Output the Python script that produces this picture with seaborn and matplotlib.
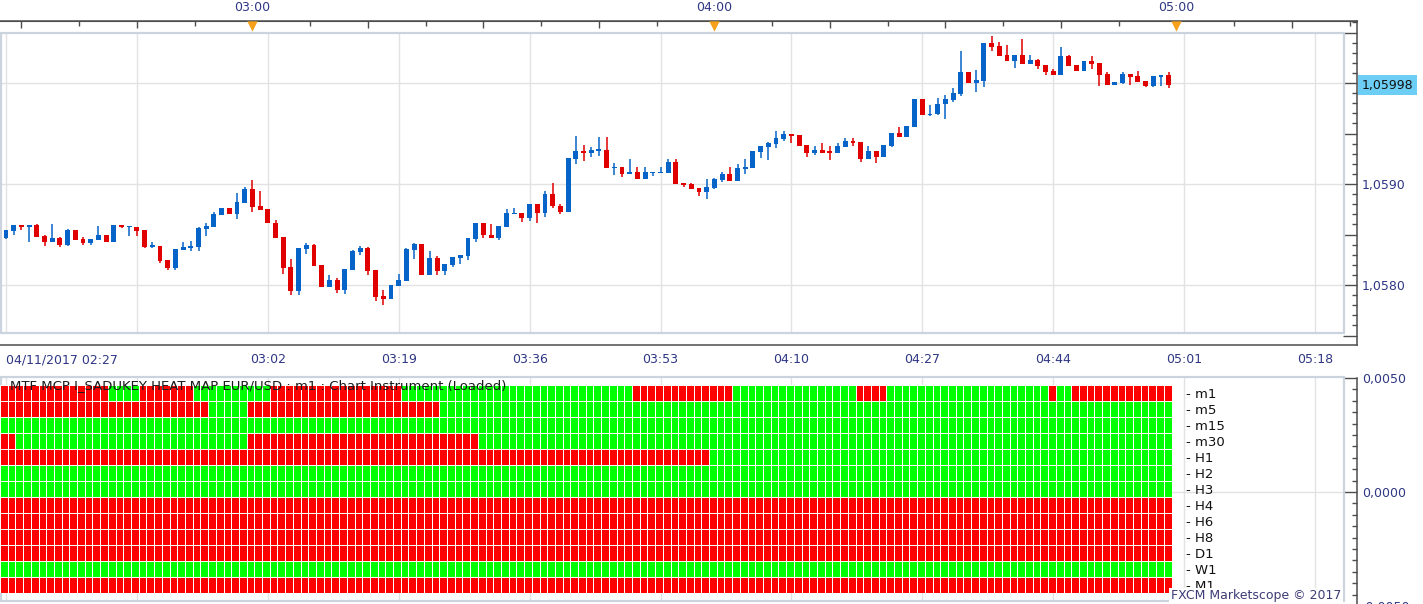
import numpy as np
import pandas as pd
import matplotlib
matplotlib.use("Agg")
import matplotlib.pyplot as plt
import matplotlib.transforms as mtransforms
from matplotlib.colors import ListedColormap
from matplotlib.patches import Rectangle
import seaborn as sns

sns.set_style("white")
plt.rcParams['font.family'] = ['DejaVu Sans']

###################################
# EUR/USD m1 candles, 04/11/2017 02:28 .. 04:59
opens = [
    1.05847, 1.05853, 1.05859, 1.05857, 1.05859, 1.05849, 1.05843, 1.05847, 1.05840, 1.05854,
    1.05846, 1.05842, 1.05845, 1.05850, 1.05843, 1.05859, 1.05857, 1.05857, 1.05854, 1.05838,
    1.05839, 1.05825, 1.05817, 1.05835, 1.05837, 1.05838, 1.05855, 1.05857, 1.05869, 1.05876,
    1.05870, 1.05881, 1.05895, 1.05878, 1.05875, 1.05861, 1.05848, 1.05818, 1.05794, 1.05836,
    1.05840, 1.05820, 1.05798, 1.05805, 1.05795, 1.05815, 1.05833, 1.05837, 1.05815, 1.05789,
    1.05786, 1.05799, 1.05804, 1.05835, 1.05841, 1.05810, 1.05827, 1.05814, 1.05820, 1.05827,
    1.05829, 1.05846, 1.05861, 1.05850, 1.05847, 1.05857, 1.05870, 1.05871, 1.05866, 1.05880,
    1.05871, 1.05890, 1.05878, 1.05872, 1.05925, 1.05933, 1.05931, 1.05933, 1.05934, 1.05916,
    1.05917, 1.05910, 1.05912, 1.05905, 1.05911, 1.05911, 1.05911, 1.05922, 1.05901, 1.05900,
    1.05896, 1.05892, 1.05896, 1.05904, 1.05910, 1.05903, 1.05915, 1.05916, 1.05932, 1.05937,
    1.05940, 1.05945, 1.05950, 1.05949, 1.05939, 1.05931, 1.05934, 1.05933, 1.05931, 1.05937,
    1.05943, 1.05942, 1.05925, 1.05933, 1.05927, 1.05938, 1.05951, 1.05947, 1.05956, 1.05984,
    1.05968, 1.05969, 1.05979, 1.05983, 1.05989, 1.06011, 1.06000, 1.06002, 1.06040, 1.06037,
    1.06028, 1.06022, 1.06028, 1.06019, 1.06023, 1.06018, 1.06012, 1.06008, 1.06027, 1.06018,
    1.06012, 1.06022, 1.06020, 1.06009, 1.05998, 1.06000, 1.06009, 1.06007, 1.06002, 1.05997,
    1.06006, 1.06008]
highs = [
    1.05854, 1.05859, 1.05859, 1.05859, 1.05860, 1.05850, 1.05860, 1.05848, 1.05855, 1.05854,
    1.05848, 1.05846, 1.05858, 1.05850, 1.05859, 1.05859, 1.05858, 1.05857, 1.05854, 1.05843,
    1.05839, 1.05825, 1.05836, 1.05843, 1.05844, 1.05857, 1.05861, 1.05872, 1.05876, 1.05876,
    1.05891, 1.05897, 1.05904, 1.05893, 1.05875, 1.05864, 1.05848, 1.05826, 1.05837, 1.05842,
    1.05841, 1.05820, 1.05810, 1.05807, 1.05816, 1.05835, 1.05839, 1.05838, 1.05815, 1.05795,
    1.05800, 1.05811, 1.05837, 1.05842, 1.05841, 1.05834, 1.05829, 1.05821, 1.05828, 1.05830,
    1.05847, 1.05861, 1.05861, 1.05860, 1.05858, 1.05875, 1.05876, 1.05871, 1.05880, 1.05880,
    1.05893, 1.05901, 1.05880, 1.05926, 1.05948, 1.05939, 1.05937, 1.05947, 1.05947, 1.05921,
    1.05917, 1.05925, 1.05917, 1.05917, 1.05912, 1.05917, 1.05925, 1.05925, 1.05901, 1.05901,
    1.05896, 1.05905, 1.05906, 1.05912, 1.05917, 1.05920, 1.05925, 1.05933, 1.05938, 1.05942,
    1.05952, 1.05952, 1.05950, 1.05949, 1.05939, 1.05938, 1.05941, 1.05938, 1.05941, 1.05946,
    1.05946, 1.05942, 1.05938, 1.05933, 1.05939, 1.05951, 1.05956, 1.05957, 1.05984, 1.05984,
    1.05978, 1.05985, 1.05988, 1.05995, 1.06032, 1.06011, 1.06013, 1.06040, 1.06047, 1.06041,
    1.06038, 1.06028, 1.06044, 1.06028, 1.06024, 1.06018, 1.06014, 1.06036, 1.06028, 1.06018,
    1.06022, 1.06027, 1.06020, 1.06011, 1.06001, 1.06011, 1.06009, 1.06012, 1.06002, 1.06007,
    1.06008, 1.06011]
lows = [
    1.05846, 1.05850, 1.05854, 1.05843, 1.05848, 1.05839, 1.05843, 1.05838, 1.05839, 1.05845,
    1.05840, 1.05840, 1.05845, 1.05843, 1.05843, 1.05856, 1.05849, 1.05849, 1.05837, 1.05837,
    1.05822, 1.05815, 1.05815, 1.05835, 1.05834, 1.05834, 1.05849, 1.05857, 1.05869, 1.05870,
    1.05865, 1.05881, 1.05872, 1.05874, 1.05861, 1.05847, 1.05811, 1.05790, 1.05790, 1.05831,
    1.05819, 1.05798, 1.05798, 1.05792, 1.05791, 1.05815, 1.05830, 1.05810, 1.05784, 1.05780,
    1.05786, 1.05799, 1.05804, 1.05826, 1.05810, 1.05810, 1.05810, 1.05810, 1.05818, 1.05821,
    1.05825, 1.05843, 1.05847, 1.05847, 1.05845, 1.05857, 1.05870, 1.05862, 1.05863, 1.05861,
    1.05867, 1.05876, 1.05870, 1.05872, 1.05920, 1.05923, 1.05927, 1.05928, 1.05916, 1.05909,
    1.05907, 1.05910, 1.05905, 1.05905, 1.05908, 1.05911, 1.05911, 1.05900, 1.05897, 1.05895,
    1.05888, 1.05885, 1.05895, 1.05902, 1.05903, 1.05903, 1.05910, 1.05916, 1.05926, 1.05924,
    1.05936, 1.05943, 1.05941, 1.05938, 1.05927, 1.05929, 1.05931, 1.05924, 1.05931, 1.05937,
    1.05938, 1.05922, 1.05925, 1.05921, 1.05927, 1.05937, 1.05947, 1.05947, 1.05956, 1.05968,
    1.05967, 1.05968, 1.05964, 1.05981, 1.05987, 1.06000, 1.05991, 1.05996, 1.06032, 1.06027,
    1.06022, 1.06015, 1.06019, 1.06019, 1.06014, 1.06008, 1.06008, 1.06008, 1.06017, 1.06012,
    1.06012, 1.06014, 1.05997, 1.05998, 1.05998, 1.05999, 1.05998, 1.06001, 1.05996, 1.05996,
    1.05997, 1.05995]
closes = [
    1.05854, 1.05859, 1.05857, 1.05859, 1.05848, 1.05843, 1.05847, 1.05840, 1.05854, 1.05845,
    1.05842, 1.05846, 1.05850, 1.05843, 1.05859, 1.05857, 1.05857, 1.05853, 1.05838, 1.05839,
    1.05824, 1.05817, 1.05836, 1.05838, 1.05839, 1.05856, 1.05858, 1.05870, 1.05876, 1.05870,
    1.05882, 1.05895, 1.05877, 1.05874, 1.05861, 1.05847, 1.05817, 1.05794, 1.05837, 1.05840,
    1.05819, 1.05798, 1.05805, 1.05795, 1.05816, 1.05834, 1.05837, 1.05814, 1.05788, 1.05786,
    1.05800, 1.05805, 1.05836, 1.05841, 1.05810, 1.05827, 1.05814, 1.05821, 1.05828, 1.05830,
    1.05847, 1.05861, 1.05850, 1.05847, 1.05858, 1.05871, 1.05871, 1.05866, 1.05880, 1.05871,
    1.05890, 1.05878, 1.05872, 1.05926, 1.05933, 1.05931, 1.05934, 1.05934, 1.05916, 1.05917,
    1.05910, 1.05912, 1.05905, 1.05912, 1.05912, 1.05912, 1.05922, 1.05900, 1.05899, 1.05895,
    1.05892, 1.05897, 1.05905, 1.05910, 1.05903, 1.05916, 1.05917, 1.05933, 1.05938, 1.05941,
    1.05946, 1.05950, 1.05948, 1.05938, 1.05931, 1.05934, 1.05931, 1.05931, 1.05938, 1.05943,
    1.05941, 1.05925, 1.05933, 1.05927, 1.05939, 1.05951, 1.05947, 1.05957, 1.05984, 1.05968,
    1.05969, 1.05979, 1.05984, 1.05990, 1.06011, 1.06000, 1.06003, 1.06040, 1.06036, 1.06027,
    1.06022, 1.06028, 1.06019, 1.06023, 1.06017, 1.06011, 1.06008, 1.06027, 1.06017, 1.06012,
    1.06022, 1.06019, 1.06008, 1.05998, 1.06001, 1.06009, 1.06006, 1.06001, 1.05997, 1.06007,
    1.06008, 1.05998]

bottom_ticks = [0, 17, 34, 51, 68, 85, 102, 119, 136, 153, 170]
bottom_labels = ['04/11/2017 02:27', '', '03:02', '03:19', '03:36', '03:53',
                 '04:10', '04:27', '04:44', '05:01', '05:18']
hour_ticks = [32, 92, 152]
hour_labels = ['03:00', '04:00', '05:00']
price_ticks = [1.0575, 1.0580, 1.0585, 1.0590, 1.0595, 1.0600, 1.0605]
price_labels = ['', '1,0580', '', '1,0590', '', '', '']

# heat map rows, run lengths per candle: 1 = up (green), 0 = down (red)
heat_names = ['m1', 'm5', 'm15', 'm30', 'H1', 'H2', 'H3', 'H4', 'H6', 'H8', 'D1', 'W1', 'M1']
m1_runs = [(0, 14), (1, 4), (0, 7), (1, 10), (0, 17), (1, 30), (0, 13),
           (1, 16), (0, 4), (1, 21), (0, 1), (1, 2), (0, 13)]
m5_runs = [(0, 27), (1, 5), (0, 25), (1, 95)]
m15_runs = [(1, 152)]
m30_runs = [(0, 2), (1, 30), (0, 30), (1, 90)]
h1_runs = [(0, 92), (1, 60)]
h2_runs = [(1, 152)]
h3_runs = [(1, 152)]
h4_runs = [(0, 152)]
h6_runs = [(0, 152)]
h8_runs = [(0, 152)]
d1_runs = [(0, 152)]
w1_runs = [(1, 152)]
mn1_runs = [(0, 152)]
###################################

blue = "#0663c7"
red = "#e00000"
heat_red = "#ff0000"
heat_green = "#00ff00"
grid_c = "#e2e2e2"
frame_c = "#cbd3df"
axis_c = "#4d4d4d"
text_c = "#2f3784"

W, H = 1423, 604


def box(x0, y0, x1, y1):
    return [x0 / W, 1 - y1 / H, (x1 - x0) / W, (y1 - y0) / H]


fig = plt.figure(figsize=(W / 100, H / 100), dpi=100)
fig.patch.set_facecolor('white')

xmin, xmax = -6 / 7.7, 1351 / 7.7
frame_right = 1343 / 1357

# ---------------- price panel ----------------
ax = fig.add_axes(box(0, 21, 1357, 345))
ax.set_xlim(xmin, xmax)
ax.set_ylim(1.057406, 1.060614)

o = np.array(opens)
h = np.array(highs)
l = np.array(lows)
c = np.array(closes)
idx = np.arange(len(c))
cols = np.where(c >= o, blue, red)
ax.vlines(idx, l, h, colors=cols, lw=1.1, zorder=3)
ax.bar(idx, np.maximum(np.abs(c - o), 0.000012), bottom=np.minimum(o, c),
       width=0.64, color=cols, linewidth=0, zorder=4)

fy0, fy1 = 12 / 324, 312 / 324
for k in range(0, 175, 17):
    ax.axvline(k, ymin=fy0, ymax=fy1, color=grid_c, lw=1, zorder=1)
for p in [1.0580, 1.0590, 1.0600]:
    ax.axhline(p, xmin=0, xmax=frame_right, color=grid_c, lw=1, zorder=1)
ax.add_patch(Rectangle((0.0004, fy0), frame_right, fy1 - fy0, transform=ax.transAxes,
                       fill=False, ec=frame_c, lw=1.6, zorder=2))

ax.spines['left'].set_visible(False)
for s in ['top', 'right', 'bottom']:
    ax.spines[s].set_color(axis_c)
    ax.spines[s].set_linewidth(1.1)

ax.set_xticks(bottom_ticks)
ax.set_xticklabels(bottom_labels)
ax.get_xticklabels()[0].set_ha('left')
ax.set_xticks(np.arange(0, 176, 2), minor=True)
ax.tick_params(axis='x', which='major', direction='in', length=9, width=1,
               color=axis_c, labelsize=9, labelcolor=text_c, pad=6)
ax.tick_params(axis='x', which='minor', direction='in', length=3.5, width=1, color=axis_c)

ax.yaxis.tick_right()
ax.set_yticks(price_ticks)
ax.set_yticklabels(price_labels)
ax.set_yticks(np.arange(1.0575, 1.06065, 0.0001), minor=True)
ax.tick_params(axis='y', which='major', direction='in', length=10, width=1,
               color=axis_c, labelsize=9, labelcolor=text_c, pad=3.5)
ax.tick_params(axis='y', which='minor', direction='in', length=3.5, width=1, color=axis_c)

top = ax.secondary_xaxis('top')
top.set_xticks(np.arange(2, 176, 15))
top.set_xticklabels([hour_labels[hour_ticks.index(k)] if k in hour_ticks else ''
                     for k in np.arange(2, 176, 15)])
top.set_xticks(np.arange(9.5, 176, 15), minor=True)
top.tick_params(axis='x', which='major', direction='in', length=5, width=1,
                color=axis_c, labelsize=9, labelcolor=text_c, pad=5)
top.tick_params(axis='x', which='minor', direction='in', length=3.5, width=1, color=axis_c)
top.spines['top'].set_color(axis_c)

tri = mtransforms.blended_transform_factory(ax.transData, ax.transAxes)
ax.scatter(hour_ticks, [0.984] * 3, transform=tri, marker='v', s=55,
           color='#f7a11a', linewidths=0, clip_on=False, zorder=6)

last = mtransforms.blended_transform_factory(ax.transAxes, ax.transData)
ax.text(1.0 + 5 / 1357, closes[-1], f"{closes[-1]:.5f}".replace('.', ','),
        transform=last, ha='left', va='center', fontsize=9, color='#111111',
        bbox=dict(boxstyle='square,pad=0.3', fc='#6ccdf5', ec='none'),
        clip_on=False, zorder=10)

# ---------------- indicator panel ----------------
axi = fig.add_axes(box(0, 378, 1357, 606))
axi.set_xlim(xmin, xmax)
axi.set_ylim(-0.005, 0.005)
for s in ['left', 'top', 'bottom']:
    axi.spines[s].set_visible(False)
axi.spines['right'].set_color(axis_c)
axi.spines['right'].set_linewidth(1.1)
axi.set_xticks([])
axi.yaxis.tick_right()
axi.set_yticks([-0.005, 0.0, 0.005])
axi.set_yticklabels(['-0,0050', '0,0000', '0,0050'])
axi.set_yticks(np.arange(-0.005, 0.00501, 0.0005), minor=True)
axi.tick_params(axis='y', which='major', direction='in', length=10, width=1,
                color=axis_c, labelsize=9, labelcolor=text_c, pad=3.5)
axi.tick_params(axis='y', which='minor', direction='in', length=3.5, width=1, color=axis_c)
gy0, gy1 = 5 / 228, 229 / 228
for k in range(0, 175, 17):
    axi.axvline(k, ymin=gy0, ymax=1, color=grid_c, lw=1, zorder=1)
axi.axhline(0.0, xmin=0, xmax=frame_right, color=grid_c, lw=1, zorder=1)
axi.add_patch(Rectangle((0.0004, gy0), frame_right, gy1 - gy0, transform=axi.transAxes,
                        fill=False, ec=frame_c, lw=1.6, zorder=2, clip_on=False))

# ---------------- heat map ----------------
all_runs = [m1_runs, m5_runs, m15_runs, m30_runs, h1_runs, h2_runs, h3_runs,
            h4_runs, h6_runs, h8_runs, d1_runs, w1_runs, mn1_runs]
heat = pd.DataFrame([sum([[v] * n for v, n in runs], []) for runs in all_runs],
                    index=[f"- {n}" for n in heat_names])

axh = fig.add_axes(box(0, 384.5, 1171.5, 593))
sns.heatmap(heat, ax=axh, cmap=ListedColormap([heat_red, heat_green]), vmin=0, vmax=1,
            cbar=False, linewidths=0.45, linecolor='white',
            xticklabels=False, yticklabels=True)
axh.yaxis.tick_right()
axh.tick_params(axis='y', length=0, pad=10.5, labelsize=9.5, labelcolor='#111111')
plt.setp(axh.get_yticklabels(), rotation=0)
axh.set_xlabel('')
axh.set_ylabel('')

fig.text(10 / W, 1 - 386 / H,
         'MTF MCP I_SADUKEY HEAT MAP EUR/USD : m1 : Chart Instrument (Loaded)',
         ha='left', va='center', fontsize=9.5, color='#1a1a1a')
fig.text(1341 / W, 1 - 596 / H, 'FXCM Marketscope \u00a9 2017', ha='right', va='center',
         fontsize=9, color='#3c3c78',
         bbox=dict(boxstyle='square,pad=0.15', fc='white', ec='none'))

fig.savefig('out.png', dpi=100)
